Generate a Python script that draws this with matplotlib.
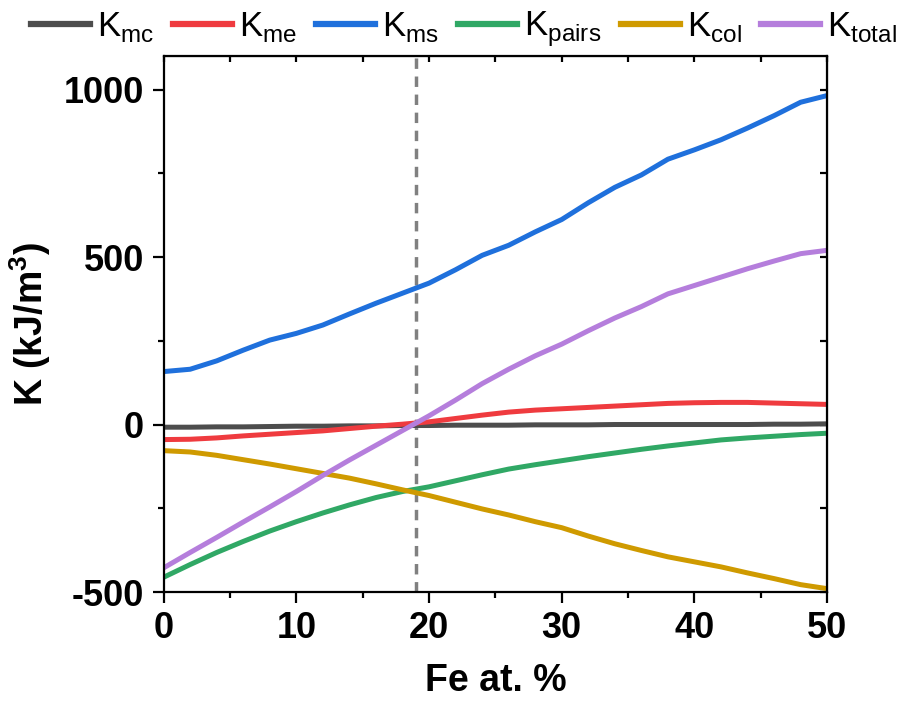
import numpy as np
import matplotlib
matplotlib.use("Agg")
import matplotlib.pyplot as plt
from matplotlib.ticker import MultipleLocator

plt.rcParams['font.family'] = ['Liberation Sans', 'DejaVu Sans']
plt.rcParams['mathtext.fontset'] = 'custom'
plt.rcParams['mathtext.rm'] = 'Liberation Sans'
plt.rcParams['mathtext.bf'] = 'Liberation Sans:bold'
plt.rcParams['axes.unicode_minus'] = False

fe = np.arange(0, 51, 2)  # Fe at. %

k_mc = [-8, -8, -7, -7, -6, -5, -5, -4, -4, -3, -3, -2, -2,
        -2, -1, -1, -1, 0, 0, 0, 0, 0, 0, 1, 1, 2]
k_me = [-45, -44, -40, -34, -29, -24, -19, -12, -5, 1, 8, 18, 28,
        37, 43, 47, 51, 55, 59, 63, 65, 66, 66, 64, 62, 60]
k_ms = [158, 165, 190, 222, 252, 272, 297, 330, 362, 392, 422, 462, 505,
        535, 575, 612, 662, 708, 745, 792, 820, 850, 885, 922, 962, 982]
k_pairs = [-456, -418, -382, -349, -318, -290, -264, -240, -218, -200, -186, -168, -150,
           -133, -120, -108, -96, -85, -74, -64, -55, -46, -40, -35, -30, -26]
k_col = [-78, -82, -92, -105, -118, -132, -146, -160, -177, -195, -212, -232, -252,
         -270, -290, -308, -333, -356, -376, -395, -410, -425, -443, -460, -478, -490]
k_total = [-428, -382, -337, -291, -246, -200, -152, -106, -62, -18, 26, 73, 122,
           165, 205, 240, 280, 318, 352, 390, 415, 440, 465, 488, 510, 520]

labels = ['K$_{\\mathrm{mc}}$', 'K$_{\\mathrm{me}}$', 'K$_{\\mathrm{ms}}$',
          'K$_{\\mathrm{pairs}}$', 'K$_{\\mathrm{col}}$', 'K$_{\\mathrm{total}}$']
colors = ['#4d4d4d', '#ef3b3f', '#1f70dc', '#30a865', '#cf9a00', '#b57edc']
series = [k_mc, k_me, k_ms, k_pairs, k_col, k_total]
fe_line = 19

fig = plt.figure(figsize=(9.09, 7.09), dpi=100)
ax = fig.add_axes([0.180, 0.165, 0.730, 0.756])

for y, c, lab in zip(series, colors, labels):
    ax.plot(fe, y, color=c, lw=3.6, label=lab)

ax.axvline(fe_line, color='#808080', lw=2.5, ls=(0, (3, 2.2)), zorder=0)

ax.set_xlim(0, 50)
ax.set_ylim(-500, 1100)
ax.xaxis.set_major_locator(MultipleLocator(10))
ax.xaxis.set_minor_locator(MultipleLocator(5))
ax.yaxis.set_major_locator(MultipleLocator(500))
ax.yaxis.set_minor_locator(MultipleLocator(250))
ax.tick_params(which='major', direction='out', length=8, width=1.6, labelsize=26, pad=6)
ax.tick_params(which='minor', direction='out', length=4, width=1.6)
for lab in ax.get_xticklabels() + ax.get_yticklabels():
    lab.set_fontweight('bold')
for s in ax.spines.values():
    s.set_linewidth(1.6)

top = ax.secondary_xaxis('top')
top.xaxis.set_major_locator(MultipleLocator(5))
top.tick_params(direction='in', length=4, width=1.6, labeltop=False)
right = ax.secondary_yaxis('right')
right.yaxis.set_major_locator(MultipleLocator(250))
right.tick_params(direction='in', length=5, width=1.6, labelright=False)

ax.set_xlabel('Fe at. %', fontsize=27, fontweight='bold', labelpad=12)
ax.set_ylabel('K (kJ/m$^{\\mathbf{3}}$)', fontsize=27, fontweight='bold', labelpad=8)

leg = fig.legend(loc='upper center', bbox_to_anchor=(0.51, 1.03), ncol=6, frameon=False,
                 fontsize=25, handlelength=1.7, handletextpad=0.2, columnspacing=0.55)
for h in leg.get_lines():
    h.set_linewidth(4.5)

fig.savefig('out.png', dpi=100)
